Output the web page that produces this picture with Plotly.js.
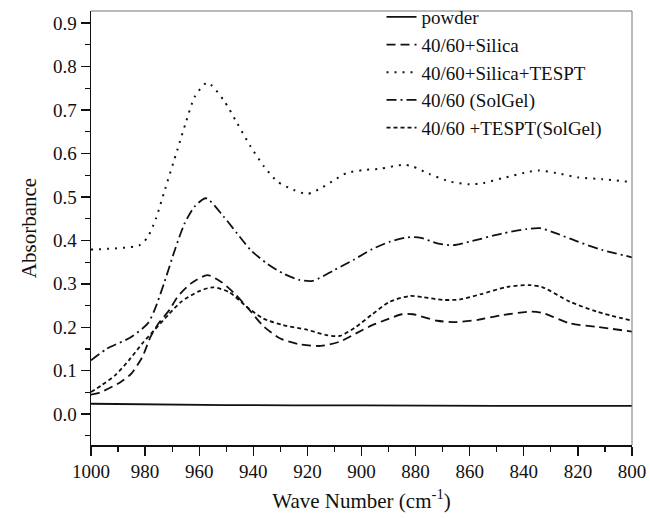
<!DOCTYPE html>
<html>
<head>
<meta charset="utf-8">
<script src="https://cdn.plot.ly/plotly-3.0.1.min.js"></script>
<style>html,body{margin:0;padding:0;background:#fff;}#chart{width:650px;height:519px;}</style>
</head>
<body>
<div id="chart"></div>
<script>
// ---- data (wave number in cm^-1, absorbance) ----
const powderWave = [1000, 950, 900, 850, 800];
const powderAbs  = [0.024, 0.021, 0.020, 0.019, 0.019];

const silicaWave = [1000, 997, 989, 985, 981, 978, 975, 971, 968, 963, 957, 952, 947, 942, 936, 930, 923, 915, 908, 902, 896, 891, 885, 881, 872, 865, 857, 848, 837, 833, 823, 813, 800];
const silicaAbs  = [0.045, 0.049, 0.074, 0.094, 0.132, 0.178, 0.209, 0.240, 0.270, 0.301, 0.320, 0.305, 0.278, 0.244, 0.201, 0.174, 0.161, 0.157, 0.167, 0.186, 0.205, 0.217, 0.230, 0.230, 0.215, 0.212, 0.217, 0.228, 0.236, 0.233, 0.209, 0.201, 0.190];

const silicaTesptWave = [1000, 982, 979, 976, 973, 968, 965, 961.6, 957, 951, 946, 941, 936, 931, 925, 920, 915, 910, 905.5, 899, 893, 884.5, 881, 875, 867, 860, 855, 848, 838, 834.6, 828, 820, 811, 800];
const silicaTesptAbs  = [0.379, 0.389, 0.408, 0.450, 0.510, 0.610, 0.670, 0.731, 0.763, 0.723, 0.670, 0.616, 0.570, 0.535, 0.516, 0.507, 0.520, 0.539, 0.555, 0.562, 0.565, 0.574, 0.570, 0.553, 0.535, 0.529, 0.532, 0.543, 0.558, 0.561, 0.555, 0.545, 0.541, 0.534];

const solgelWave = [1000, 994, 985, 979, 976.5, 973, 969, 965.4, 961.7, 957.5, 951, 946, 941, 935, 929, 923, 918, 910, 903, 896, 889.5, 883, 878, 872, 866, 860, 848, 839, 834, 828, 820, 811, 800];
const solgelAbs  = [0.124, 0.151, 0.178, 0.209, 0.240, 0.301, 0.378, 0.439, 0.478, 0.497, 0.455, 0.416, 0.378, 0.347, 0.324, 0.309, 0.307, 0.332, 0.355, 0.380, 0.397, 0.407, 0.406, 0.393, 0.389, 0.397, 0.416, 0.426, 0.428, 0.416, 0.397, 0.378, 0.361];

const tesptSolgelWave = [1000, 996, 991, 986, 981, 976.5, 971.5, 966.6, 960.4, 955, 949, 942.4, 936.3, 929, 920, 913, 908, 902, 896, 889.5, 882, 877, 870, 863.6, 856, 846, 837.7, 833, 823, 813, 800];
const tesptSolgelAbs  = [0.051, 0.067, 0.090, 0.124, 0.163, 0.194, 0.228, 0.259, 0.282, 0.292, 0.281, 0.247, 0.220, 0.205, 0.194, 0.182, 0.180, 0.201, 0.230, 0.259, 0.272, 0.269, 0.263, 0.264, 0.276, 0.293, 0.297, 0.292, 0.259, 0.236, 0.215];

const seriesNames = ["powder", "40/60+Silica", "40/60+Silica+TESPT", "40/60 (SolGel)", "40/60 +TESPT(SolGel)"];

const FONT = "Liberation Serif, Times New Roman, serif";
const INK = "#111";

function tr(x, y, name, dash, width) {
  return {
    x: x, y: y, name: name, type: "scatter", mode: "lines",
    line: {color: INK, width: width, dash: dash, shape: "spline", smoothing: 0.7}
  };
}

const data = [
  tr(powderWave, powderAbs, seriesNames[0], "solid", 1.8),
  tr(silicaWave, silicaAbs, seriesNames[1], "9px,5px", 1.8),
  tr(silicaTesptWave, silicaTesptAbs, seriesNames[2], "2px,6px", 2),
  tr(solgelWave, solgelAbs, seriesNames[3], "10px,4px,2px,4px", 1.8),
  tr(tesptSolgelWave, tesptSolgelAbs, seriesNames[4], "4px,3px", 1.8)
];

const layout = {
  width: 650, height: 519,
  margin: {l: 91, r: 18, t: 11, b: 74, autoexpand: false},
  paper_bgcolor: "#fff", plot_bgcolor: "#fff",
  font: {family: FONT, size: 19, color: INK},
  showlegend: true,
  legend: {
    x: 0.537, y: 1.03, xanchor: "left", yanchor: "top",
    bgcolor: "rgba(0,0,0,0)", borderwidth: 0,
    font: {family: FONT, size: 19, color: INK},
    tracegroupgap: 0, itemwidth: 30
  },
  xaxis: {
    range: [1000, 800], dtick: 20, tick0: 800,
    showgrid: false, zeroline: false,
    showline: true, linecolor: INK, linewidth: 1.5,
    ticks: "outside", ticklen: 9, tickwidth: 1.4, tickcolor: INK,
    minor: {dtick: 10, ticks: "outside", ticklen: 5, tickwidth: 1.2, tickcolor: INK, showgrid: false},
    tickfont: {family: FONT, size: 19, color: INK},
    title: {text: "Wave Number (cm<sup>-1</sup>)", font: {family: FONT, size: 21, color: INK}, standoff: 12}
  },
  yaxis: {
    range: [-0.071, 0.928], dtick: 0.1, tick0: 0, tickformat: ".1f",
    showgrid: false, zeroline: false,
    showline: true, linecolor: INK, linewidth: 1.5,
    ticks: "outside", ticklen: 9, tickwidth: 1.4, tickcolor: INK,
    minor: {dtick: 0.05, ticks: "outside", ticklen: 5, tickwidth: 1.2, tickcolor: INK, showgrid: false},
    tickfont: {family: FONT, size: 19, color: INK},
    title: {text: "Absorbance", font: {family: FONT, size: 21, color: INK}, standoff: 10}
  },
  shapes: [
    {type: "line", xref: "paper", yref: "paper", x0: 0, x1: 1, y0: 1, y1: 1, line: {color: "#777", width: 1}},
    {type: "line", xref: "paper", yref: "paper", x0: 1, x1: 1, y0: 0, y1: 1, line: {color: "#777", width: 1}}
  ]
};

Plotly.newPlot("chart", data, layout, {displayModeBar: false, staticPlot: true});
</script>
</body>
</html>
